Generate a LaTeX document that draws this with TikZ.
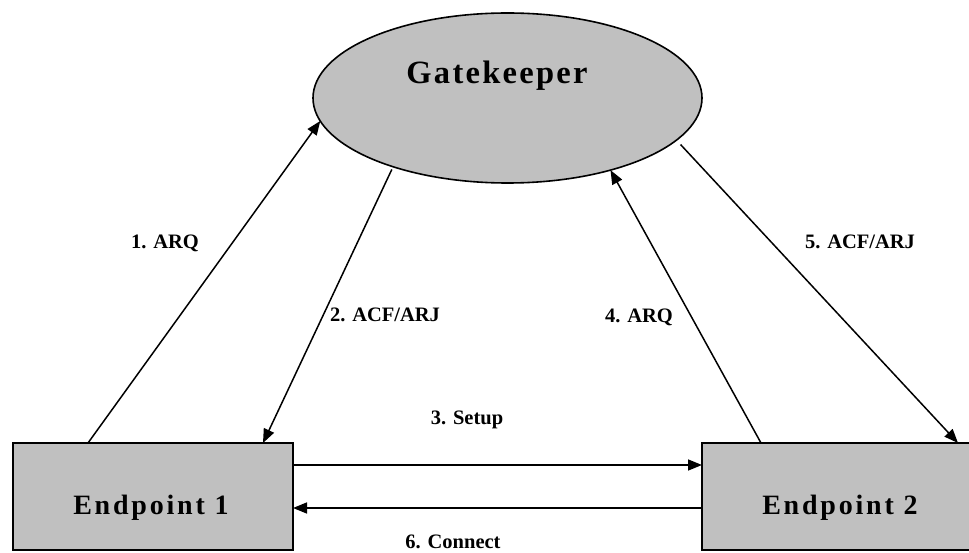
\documentclass[tikz,border=0pt]{standalone}
\usepackage{fontspec}
\setmainfont{Liberation Serif}
\newfontfamily\titleA[LetterSpace=7]{Liberation Serif}
\newfontfamily\titleB[LetterSpace=10]{Liberation Serif}
\usetikzlibrary{arrows.meta,shapes.geometric,calc}
\definecolor{silver}{HTML}{C0C0C0}
\tikzset{
  x=1pt, y=1pt,
  entity/.style={draw=black, fill=silver, line width=1.6pt, inner sep=0pt, outer sep=0pt},
  boxnode/.style={entity, rectangle, minimum width=280pt, minimum height=107pt},
  gknode/.style={entity, ellipse, minimum width=389pt, minimum height=170pt},
  msg/.style={draw=black, line width=1.5pt, -{Triangle[length=14pt,width=11pt]}},
  msglabel/.style={anchor=base, inner sep=0pt, font=\fontsize{20.5}{24}\selectfont\bfseries},
  bigtitle/.style={anchor=base, inner sep=0pt, font=\fontsize{32.5}{38}\selectfont\titleA\bfseries},
  boxtitle/.style={anchor=base, inner sep=0pt, font=\fontsize{28}{34}\selectfont\titleB\bfseries}
}
\begin{document}
\begin{tikzpicture}
  \useasboundingbox (0,0) rectangle (969,552);
  \begin{scope}
    \clip (0,0) rectangle (969,552);

    % gatekeeper and the two endpoints
    \node[gknode] (gk) at (507.5,454) {};
    \node[bigtitle] (gkt) at (497,468) {Gatekeeper};

    \node[boxnode] (e1) at (153,55.5) {};
    \node[boxtitle] (e1t) at (151,38) {Endpoint 1};

    \node[boxnode] (e2) at (842,55.5) {};
    \node[boxtitle] (e2t) at (840,38) {Endpoint 2};

    % admission requests and replies
    \draw[msg] ([xshift=75pt]e1.north west) -- (gk.187);
    \draw[msg, shorten <=3pt] (gk.211) -- ([xshift=250pt]e1.north west);
    \draw[msg] ([xshift=59pt]e2.north west) -- (gk.-35);
    \draw[msg, shorten <=6pt] (gk.-14) -- ([xshift=256pt]e2.north west);

    % call signalling between the endpoints
    \draw[msg] ([yshift=31.5pt]e1.east) -- ([yshift=31.5pt]e2.west);
    \draw[msg] ([yshift=-11.5pt]e2.west) -- ([yshift=-11.5pt]e1.east);

    % message labels
    \node[msglabel] (l1) at (165,303) {1. ARQ};
    \node[msglabel] (l2) at (385,230) {2. ACF/ARJ};
    \node[msglabel] (l3) at (467,128) {3. Setup};
    \node[msglabel] (l4) at (639,229) {4. ARQ};
    \node[msglabel] (l5) at (860,303) {5. ACF/ARJ};
    \node[msglabel] (l6) at (453,4) {6. Connect};
  \end{scope}
\end{tikzpicture}
\end{document}
